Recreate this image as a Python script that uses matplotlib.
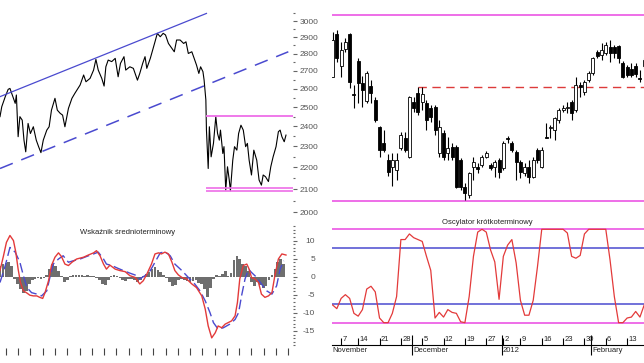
import matplotlib
matplotlib.use('Agg')
import matplotlib.pyplot as plt
import matplotlib.ticker as mticker
import matplotlib.transforms as mtransforms
import numpy as np
import pandas as pd

plt.rcParams['font.family'] = ['Liberation Sans', 'DejaVu Sans']

# ---- left panel: long-term price (trading-day index) ----
price_day = [0, 3, 9, 14, 17, 22, 26, 28, 31, 34,
             38, 41, 44, 48, 52, 57, 62, 66, 70, 74,
             80, 84, 88, 94, 98, 103, 107, 111, 117, 123,
             128, 137, 143, 147, 154, 160, 164, 168, 174, 178,
             181, 185, 191, 197, 202, 206, 212, 215, 222, 228,
             235, 239, 244, 248, 251, 257, 261, 265, 269, 274,
             279, 283, 288, 294, 298, 302, 308, 314, 318, 322,
             328, 332, 336, 340, 343, 347, 349, 352, 353, 356,
             358, 361, 365, 369, 372, 375, 377, 381, 383, 386,
             389, 392, 394, 398, 401, 405, 408, 412, 416, 420,
             423, 426, 430, 434, 439, 443, 447, 450, 454, 459,
             463, 467, 472, 476, 479, 482, 486, 489]
price_val = [2450, 2502, 2556, 2596, 2601, 2556, 2520, 2565, 2348, 2450,
             2432, 2331, 2274, 2415, 2364, 2398, 2331, 2299, 2270, 2331,
             2381, 2398, 2484, 2547, 2484, 2467, 2458, 2398, 2493, 2547,
             2574, 2620, 2676, 2638, 2657, 2704, 2766, 2704, 2657, 2614,
             2723, 2762, 2753, 2772, 2666, 2743, 2782, 2704, 2723, 2714,
             2647, 2685, 2743, 2782, 2714, 2772, 2821, 2871, 2923, 2902,
             2923, 2913, 2861, 2831, 2811, 2882, 2882, 2861, 2871, 2801,
             2811, 2772, 2733, 2685, 2723, 2695, 2647, 2538, 2381, 2195,
             2398, 2250, 2315, 2450, 2364, 2331, 2381, 2266, 2299, 2097,
             2203, 2142, 2094, 2234, 2299, 2282, 2364, 2406, 2381, 2299,
             2315, 2234, 2165, 2282, 2234, 2142, 2119, 2165, 2157, 2135,
             2203, 2250, 2299, 2373, 2381, 2348, 2323, 2356]

trend_day = [0, 353]
trend_val = [2556, 3049]
channel_day = [0, 493]
channel_val = [2195, 2811]
range_start = 353
resistance = 2455
support = [2092, 2104]
price_ticks = [2000, 2100, 2200, 2300, 2400, 2500, 2600, 2700, 2800, 2900, 3000]

# medium-term indicator
hist_day = np.arange(0, 490, 5)
hist_val = [3.0, 3.5, 3.8, 4.0, 3.0, -0.5, -2.0, -3.5, -4.4, -4.0,
            -2.0, -1.0, -0.5, -0.4, -0.6, -0.3, 0.5, 2.0, 3.5, 3.0,
            1.5, 0.3, -1.5, -0.8, 0.3, 0.5, 0.6, 0.4, 0.5, 0.3,
            0.6, 0.2, 0.3, -0.3, -0.8, -2.0, -2.4, -1.0, 0.2, 0.4,
            0.2, -0.3, -1.0, -1.1, -0.7, -0.5, -1.0, -1.5, -1.0, 0.2,
            0.8, 1.3, 2.0, 2.6, 1.8, 1.2, 0.6, -0.3, -1.5, -2.5,
            -2.2, -1.0, -0.5, -0.8, -1.2, -1.5, -1.2, -1.0, -1.8, -2.0,
            -3.5, -5.7, -3.0, -0.5, 0.5, 0.3, 0.8, 1.5, 0.3, 1.0,
            4.5, 5.6, 5.0, 3.5, 3.0, 1.5, -1.5, -2.5, -1.5, -2.2,
            -3.0, -2.5, -1.0, 0.5, 2.0, 4.0, 4.9, 3.5]
red_day = [0, 6, 11, 17, 23, 27, 31, 35, 40, 46,
           51, 57, 63, 68, 73, 77, 83, 88, 94, 100,
           105, 111, 117, 123, 131, 143, 151, 160, 165, 171,
           177, 182, 188, 197, 205, 214, 222, 231, 239, 245,
           251, 259, 265, 271, 276, 282, 288, 294, 299, 305,
           311, 319, 328, 336, 345, 351, 356, 362, 368, 373,
           379, 385, 390, 396, 402, 406, 410, 416, 422, 426,
           430, 436, 442, 447, 453, 459, 465, 470, 476, 482, 489]
red_val = [1.7, 5.8, 9.5, 11.4, 10.0, 6.8, 2.1, -1.6, -3.9, -4.5,
           -5.1, -5.3, -5.3, -5.7, -6.0, -4.4, -1.1, 3.1, 5.4, 6.6,
           5.6, 3.5, 3.1, 4.0, 4.9, 5.4, 6.0, 6.6, 7.2, 5.8,
           3.5, 2.1, 3.2, 2.1, 1.7, 1.4, 0.3, -0.2, -2.0, -1.1,
           0.7, 3.5, 6.3, 6.6, 6.3, 6.8, 6.3, 4.0, 1.7, 0.5,
           -0.2, -0.6, -2.0, -3.0, -5.3, -9.0, -13.6, -16.9, -15.5, -13.6,
           -14.1, -13.1, -12.7, -12.2, -10.8, -7.1, -0.6, 3.1, 3.5, 2.1,
           -0.2, -0.6, -1.6, -4.8, -5.7, -5.3, -4.4, 0.3, 4.9, 6.3, 6.0]
blue_day = [0, 9, 17, 26, 34, 40, 46, 54, 63, 71,
            80, 86, 91, 100, 108, 117, 125, 137, 148, 160,
            168, 177, 182, 191, 202, 211, 222, 234, 239, 248,
            257, 265, 274, 282, 291, 299, 311, 322, 333, 342,
            351, 359, 365, 373, 382, 393, 402, 408, 413, 419,
            425, 430, 439, 447, 456, 465, 473, 479, 485]
blue_val = [-1.6, 3.1, 8.1, 6.8, 4.0, 0.3, -3.0, -4.4, -4.8, -5.3,
            -3.9, 0.3, 3.5, 4.9, 5.8, 4.0, 4.4, 4.9, 5.6, 6.3,
            6.8, 4.9, 3.5, 3.1, 2.3, 1.7, 1.0, 0.3, -0.6, 0.3,
            1.7, 4.0, 6.6, 6.9, 5.8, 3.5, 1.7, -0.2, -2.0, -3.9,
            -6.7, -9.9, -12.7, -14.5, -14.1, -13.1, -11.8, -9.9, -5.3, -0.6,
            2.1, 1.2, -0.2, -2.0, -3.9, -4.8, -2.5, 2.1, 4.4]
osc_ticks = [-15, -10, -5, 0, 5, 10]

# ---- right panel: daily candles Nov 2011 - Feb 2012 ----
holidays = ['2011-11-11', '2011-12-26', '2012-01-06']
sessions = pd.bdate_range('2011-11-03', '2012-02-17')
sessions = sessions[~sessions.isin(pd.to_datetime(holidays))]

c_open = [2340, 2423, 2361, 2394, 2423, 2307, 2371, 2328, 2294, 2323,
          2295, 2243, 2212, 2179, 2166, 2160, 2203, 2222, 2185, 2292,
          2309, 2292, 2290, 2280, 2282, 2193, 2232, 2193, 2205, 2205,
          2179, 2127, 2112, 2166, 2166, 2170, 2185, 2170, 2166, 2179,
          2164, 2222, 2212, 2195, 2175, 2154, 2166, 2146, 2199, 2166,
          2224, 2241, 2237, 2257, 2276, 2280, 2292, 2276, 2324, 2311,
          2334, 2348, 2388, 2383, 2386, 2398, 2398, 2400, 2367, 2359,
          2355, 2361, 2338, 2361]
c_high = [2427, 2431, 2408, 2415, 2425, 2324, 2377, 2342, 2352, 2334,
          2301, 2245, 2237, 2191, 2193, 2193, 2234, 2234, 2303, 2301,
          2321, 2321, 2295, 2286, 2286, 2257, 2237, 2224, 2212, 2208,
          2183, 2135, 2156, 2185, 2174, 2189, 2197, 2174, 2179, 2183,
          2216, 2226, 2216, 2199, 2179, 2174, 2179, 2185, 2203, 2205,
          2251, 2247, 2263, 2280, 2286, 2292, 2295, 2340, 2330, 2334,
          2352, 2379, 2392, 2406, 2408, 2412, 2402, 2402, 2371, 2363,
          2367, 2367, 2353, 2377]
c_low = [2339, 2369, 2340, 2388, 2319, 2280, 2290, 2282, 2290, 2290,
         2253, 2185, 2195, 2148, 2129, 2141, 2199, 2195, 2183, 2272,
         2266, 2276, 2237, 2253, 2228, 2185, 2179, 2179, 2179, 2125,
         2121, 2102, 2106, 2141, 2154, 2166, 2183, 2160, 2146, 2145,
         2160, 2212, 2195, 2141, 2145, 2148, 2135, 2145, 2174, 2164,
         2222, 2222, 2218, 2251, 2272, 2270, 2257, 2272, 2301, 2305,
         2330, 2344, 2377, 2373, 2383, 2369, 2377, 2367, 2338, 2340,
         2340, 2340, 2330, 2357]
c_close = [2412, 2377, 2392, 2408, 2330, 2305, 2328, 2315, 2348, 2309,
           2257, 2199, 2199, 2156, 2179, 2179, 2228, 2199, 2301, 2280,
           2272, 2307, 2257, 2263, 2237, 2243, 2185, 2203, 2185, 2127,
           2127, 2116, 2154, 2175, 2162, 2185, 2193, 2164, 2175, 2156,
           2212, 2220, 2199, 2175, 2156, 2166, 2146, 2179, 2179, 2199,
           2222, 2243, 2261, 2276, 2280, 2282, 2270, 2324, 2321, 2330,
           2348, 2377, 2381, 2392, 2402, 2386, 2386, 2377, 2340, 2344,
           2344, 2346, 2336, 2373]
band_high = 2460
band_low = 2100
neckline = 2321
neckline_start = 20

# short-term oscillator (0-100)
short_osc = [19, 15, 26, 30, 26, 10, 7, 14, 36, 39,
             33, 5, 0, 0, 10, 28, 89, 89, 95, 91,
             89, 87, 71, 56, 5, 11, 6, 14, 11, 10,
             1, 0, 28, 71, 97, 100, 97, 78, 65, 25,
             71, 83, 89, 64, 24, 8, 8, 24, 60, 100,
             100, 100, 100, 100, 100, 96, 71, 69, 72, 95,
             100, 100, 100, 100, 100, 67, 28, 0, 0, 5,
             6, 12, 6, 19]
short_levels_outer = [100, 0]
short_levels_inner = [80, 20]

PINK = '#ee6ee8'
BLUE = '#4a4acf'
RED = '#e33a3a'
GREY_TXT = '#555555'

W, H = 644, 363
fig = plt.figure(figsize=(W / 100, H / 100), dpi=100)


def box(x0, y0, x1, y1):
    return [x0 / W, 1 - y1 / H, (x1 - x0) / W, (y1 - y0) / H]


def clean(ax):
    for s in ax.spines.values():
        s.set_visible(False)


# ---------- left top: price, log scale ----------
ax1 = fig.add_axes(box(0, 0, 293, 215))
clean(ax1)
ax1.plot(price_day, price_val, color='black', lw=0.8)
ax1.plot(trend_day, trend_val, color=BLUE, lw=0.9)
ax1.plot(channel_day, channel_val, color=BLUE, lw=1.1, dashes=(9, 6))
ax1.hlines(resistance, range_start, 501, color=PINK, lw=1.3)
ax1.hlines(support, range_start, 501, color=PINK, lw=1.2)
ax1.set_yscale('log')
ax1.set_xlim(0, 501)
ax1.set_ylim(1989, 3137)
ax1.yaxis.tick_right()
ax1.yaxis.set_major_locator(mticker.FixedLocator(price_ticks))
ax1.yaxis.set_major_formatter(mticker.FixedFormatter([str(t) for t in price_ticks]))
ax1.yaxis.set_minor_locator(mticker.FixedLocator([t + 50 for t in price_ticks]))
ax1.yaxis.set_minor_formatter(mticker.NullFormatter())
ax1.tick_params(axis='y', which='major', length=3, width=0.8, color='#666666',
                labelsize=6, labelcolor=GREY_TXT, pad=1.5)
ax1.tick_params(axis='y', which='minor', length=1.2, width=0.8, color='#666666')
ax1.set_xticks([])

# ---------- left bottom: medium-term indicator ----------
ax2 = fig.add_axes(box(0, 225, 293, 348))
clean(ax2)
ax2.bar(hist_day, hist_val, width=4.6, color='#6e6e6e', linewidth=0)
ax2.plot(blue_day, blue_val, color=BLUE, lw=1.0, dashes=(7, 3))
ax2.plot(red_day, red_val, color=RED, lw=1.0)
ax2.set_xlim(0, 501)
ax2.set_ylim(-19.7, 14.3)
ax2.yaxis.tick_right()
ax2.set_yticks(osc_ticks)
ax2.set_yticklabels([str(t) for t in osc_ticks])
ax2.yaxis.set_minor_locator(mticker.MultipleLocator(1))
for lbl in ax2.get_yticklabels():
    lbl.set_horizontalalignment('right')
ax2.tick_params(axis='y', which='major', length=3, width=0.8, color='#666666',
                labelsize=6, labelcolor=GREY_TXT, pad=13)
ax2.tick_params(axis='y', which='minor', length=1.2, width=0.8, color='#666666')
ax2.set_xticks(np.arange(10, 501, 21))
ax2.set_xticklabels([])
ax2.tick_params(axis='x', length=5, width=0.8, color='#444444')
ax2.text(0.435, 0.94, 'Wskaźnik średnioterminowy', transform=ax2.transAxes,
         ha='center', va='center', fontsize=5.5, color='#222222')

# ---------- right top: candles ----------
idx = np.arange(len(sessions))
o = np.array(c_open)
c = np.array(c_close)
ax3 = fig.add_axes(box(331.5, 5, 644, 207))
clean(ax3)
ax3.axhline(band_high, color=PINK, lw=1.4)
ax3.axhline(band_low, color=PINK, lw=1.4)
ax3.plot([neckline_start, 80], [neckline, neckline], color='#dd3b3b',
         lw=1.0, dashes=(6, 4))
ax3.vlines(idx, c_low, c_high, color='black', lw=0.8, zorder=2)
up = c >= o
body_low = np.minimum(o, c)
body_h = np.maximum(np.abs(c - o), 0.8)
ax3.bar(idx[up], body_h[up], bottom=body_low[up], width=0.7,
        color='white', edgecolor='black', linewidth=0.6, zorder=3)
ax3.bar(idx[~up], body_h[~up], bottom=body_low[~up], width=0.7,
        color='black', edgecolor='black', linewidth=0.6, zorder=3)
ax3.set_xlim(-0.25, 72.95)
ax3.set_ylim(2088, 2479)
ax3.set_xticks([])
ax3.set_yticks([])

# ---------- right bottom: short-term oscillator ----------
ax4 = fig.add_axes(box(331.5, 212, 644, 345))
for name, s in ax4.spines.items():
    s.set_visible(name == 'bottom')
ax4.spines['bottom'].set_linewidth(0.8)
for lv in short_levels_outer:
    ax4.axhline(lv, color=PINK, lw=1.4)
for lv in short_levels_inner:
    ax4.axhline(lv, color=BLUE, lw=1.1)
ax4.plot(idx, short_osc, color=RED, lw=0.9)
ax4.set_xlim(-0.25, 72.95)
ax4.set_ylim(-23.9, 118.5)
ax4.set_yticks([])
ax4.text(0.5, 0.92, 'Oscylator krótkoterminowy', transform=ax4.transAxes,
         ha='center', va='center', fontsize=5.5, color='#222222')

week = sessions.isocalendar().week.values
week_start = [i for i in range(1, len(sessions)) if week[i] != week[i - 1]]
month_start = [0] + [i for i in range(1, len(sessions))
                     if sessions[i].month != sessions[i - 1].month]
ax4.set_xticks(week_start)
ax4.set_xticklabels([])
ax4.tick_params(axis='x', which='major', direction='in', length=5, width=0.8)
ax4.set_xticks([m - 0.35 for m in month_start[1:]], minor=True)
ax4.tick_params(axis='x', which='minor', direction='inout', length=14, width=0.8)
trans = mtransforms.blended_transform_factory(ax4.transData, ax4.transAxes)
for i in week_start:
    ax4.text(i + 0.3, 0.045, str(sessions[i].day), transform=trans,
             ha='left', va='center', fontsize=5.5, color='#222222')
for i in month_start:
    d = sessions[i]
    name = str(d.year) if d.month == 1 else d.strftime('%B')
    ax4.text(i - 0.1, -0.04, name, transform=trans, ha='left', va='center',
             fontsize=5.5, color='#222222', clip_on=False)

fig.savefig('out.png', dpi=100)
